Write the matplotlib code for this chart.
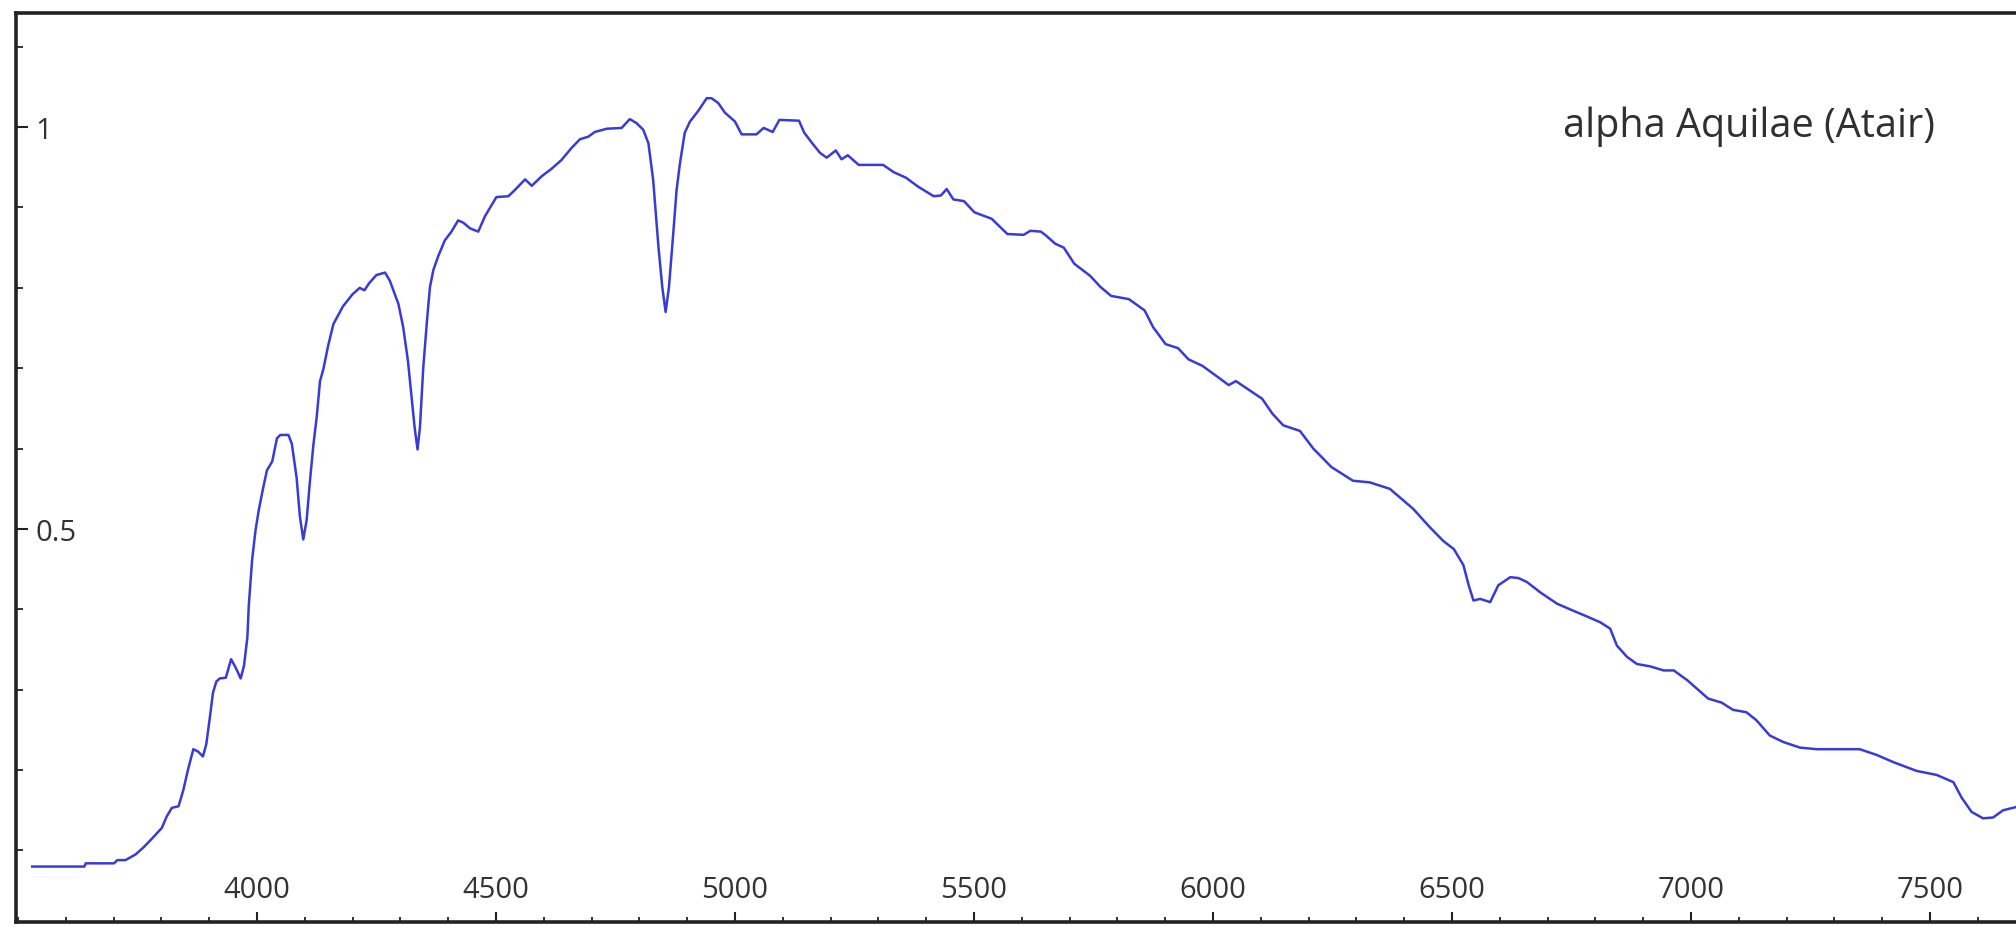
import matplotlib
matplotlib.use("Agg")
import matplotlib.pyplot as plt
from matplotlib.ticker import MultipleLocator

# wavelength (Angstrom) and relative flux
wavelength = [
    3530, 3639, 3642, 3701, 3708, 3725, 3746, 3763, 3784, 3801,
    3811, 3822, 3836, 3846, 3856, 3867, 3877, 3887, 3894, 3901,
    3908, 3915, 3922, 3935, 3946, 3956, 3966, 3973, 3980, 3983,
    3990, 3997, 4004, 4013, 4021, 4032, 4042, 4049, 4066, 4073,
    4083, 4090, 4097, 4104, 4111, 4118, 4125, 4132, 4139, 4149,
    4160, 4180, 4200, 4215, 4225, 4235, 4250, 4268, 4278, 4296,
    4306, 4316, 4323, 4330, 4336, 4341, 4348, 4357, 4362, 4369,
    4379, 4393, 4407, 4421, 4432, 4446, 4463, 4477, 4501, 4526,
    4540, 4561, 4575, 4596, 4616, 4637, 4658, 4676, 4693, 4707,
    4732, 4763, 4780, 4794, 4808, 4819, 4829, 4840, 4848, 4855,
    4862, 4871, 4878, 4885, 4895, 4906, 4923, 4941, 4951, 4965,
    4979, 5000, 5014, 5045, 5060, 5079, 5093, 5134, 5145, 5163,
    5178, 5192, 5211, 5223, 5236, 5259, 5310, 5332, 5358, 5383,
    5416, 5431, 5443, 5457, 5479, 5501, 5537, 5570, 5604, 5618,
    5640, 5651, 5670, 5688, 5710, 5743, 5765, 5787, 5824, 5857,
    5875, 5901, 5927, 5949, 5978, 6015, 6033, 6048, 6073, 6103,
    6125, 6147, 6182, 6210, 6248, 6293, 6328, 6370, 6419, 6454,
    6482, 6504, 6524, 6535, 6545, 6559, 6580, 6597, 6622, 6639,
    6657, 6685, 6720, 6751, 6775, 6810, 6831, 6845, 6866, 6887,
    6915, 6943, 6964, 6992, 7036, 7064, 7088, 7116, 7137, 7165,
    7193, 7228, 7263, 7353, 7388, 7423, 7472, 7514, 7549, 7566,
    7587, 7611, 7632, 7653, 7680,
]
flux = [
    0.080, 0.080, 0.084, 0.084, 0.088, 0.088, 0.095, 0.104, 0.117, 0.128,
    0.142, 0.153, 0.155, 0.175, 0.201, 0.226, 0.223, 0.217, 0.232, 0.263,
    0.296, 0.310, 0.314, 0.315, 0.338, 0.327, 0.314, 0.330, 0.365, 0.405,
    0.462, 0.498, 0.524, 0.551, 0.573, 0.584, 0.613, 0.617, 0.617, 0.606,
    0.564, 0.515, 0.487, 0.511, 0.560, 0.604, 0.639, 0.684, 0.699, 0.728,
    0.755, 0.777, 0.792, 0.800, 0.797, 0.806, 0.816, 0.819, 0.809, 0.780,
    0.751, 0.709, 0.668, 0.626, 0.599, 0.626, 0.701, 0.768, 0.801, 0.822,
    0.839, 0.859, 0.870, 0.884, 0.881, 0.874, 0.870, 0.889, 0.913, 0.914,
    0.922, 0.935, 0.927, 0.939, 0.948, 0.959, 0.974, 0.985, 0.988, 0.994,
    0.998, 0.999, 1.010, 1.005, 0.997, 0.980, 0.934, 0.851, 0.801, 0.770,
    0.801, 0.868, 0.922, 0.955, 0.993, 1.007, 1.020, 1.036, 1.036, 1.030,
    1.018, 1.007, 0.991, 0.991, 0.999, 0.994, 1.009, 1.008, 0.993, 0.979,
    0.968, 0.962, 0.971, 0.960, 0.965, 0.953, 0.953, 0.944, 0.937, 0.926,
    0.914, 0.915, 0.923, 0.910, 0.908, 0.894, 0.886, 0.867, 0.866, 0.871,
    0.870, 0.865, 0.855, 0.850, 0.830, 0.815, 0.801, 0.790, 0.786, 0.772,
    0.751, 0.730, 0.725, 0.711, 0.703, 0.687, 0.679, 0.684, 0.674, 0.662,
    0.643, 0.629, 0.622, 0.600, 0.577, 0.560, 0.558, 0.550, 0.525, 0.502,
    0.485, 0.475, 0.455, 0.430, 0.411, 0.413, 0.409, 0.430, 0.440, 0.439,
    0.434, 0.421, 0.407, 0.399, 0.393, 0.384, 0.376, 0.355, 0.341, 0.332,
    0.329, 0.324, 0.324, 0.312, 0.289, 0.284, 0.275, 0.272, 0.262, 0.243,
    0.235, 0.228, 0.226, 0.226, 0.219, 0.210, 0.199, 0.194, 0.185, 0.166,
    0.148, 0.140, 0.141, 0.150, 0.154,
]

x_ticks = [4000, 4500, 5000, 5500, 6000, 6500, 7000, 7500]
x_labels = ["4000", "4500", "5000", "5500", "6000", "6500", "7000", "7500"]
y_ticks = [0.5, 1.0]
y_labels = ["0.5", "1"]
star_name = "alpha Aquilae (Atair)"

W, H = 2016, 928
fig = plt.figure(figsize=(W / 100, H / 100), dpi=100)
ax = fig.add_axes([16 / W, 5 / H, 1 - 16 / W, 909 / H])

ax.plot(wavelength, flux, color="#3a3ad6", lw=1.8)

ax.set_xlim(3496, 7680)
ax.set_ylim(0.011, 1.142)

fonts = ["Open Sans", "DejaVu Sans"]
txt = "#333333"

ax.set_xticks(x_ticks, labels=x_labels)
ax.set_yticks(y_ticks, labels=y_labels)
ax.xaxis.set_minor_locator(MultipleLocator(100))
ax.yaxis.set_minor_locator(MultipleLocator(0.1))

ax.tick_params(axis="x", which="major", direction="in", length=7, width=1.5,
               pad=-13, labelsize=21, labelcolor=txt, color="#222222")
ax.tick_params(axis="x", which="minor", direction="in", length=3.5, width=1.3,
               color="#222222")
ax.tick_params(axis="y", which="major", direction="in", length=8.5, width=1.5,
               pad=-14, labelsize=21, labelcolor=txt, color="#222222")
ax.tick_params(axis="y", which="minor", direction="in", length=5, width=1.3,
               color="#222222")

for t in ax.get_xticklabels():
    t.set_verticalalignment("bottom")
    t.set_family(fonts)
for t in ax.get_yticklabels():
    t.set_horizontalalignment("left")
    t.set_family(fonts)

ax.spines["right"].set_visible(False)
for s in ["left", "top", "bottom"]:
    ax.spines[s].set_linewidth(2.6)
    ax.spines[s].set_color("#222222")

fig.text(1935 / W, 1 - 137 / H, star_name, ha="right", va="baseline",
         fontsize=28.5, color="#303030", family=fonts)

fig.savefig("out.png", dpi=100)
